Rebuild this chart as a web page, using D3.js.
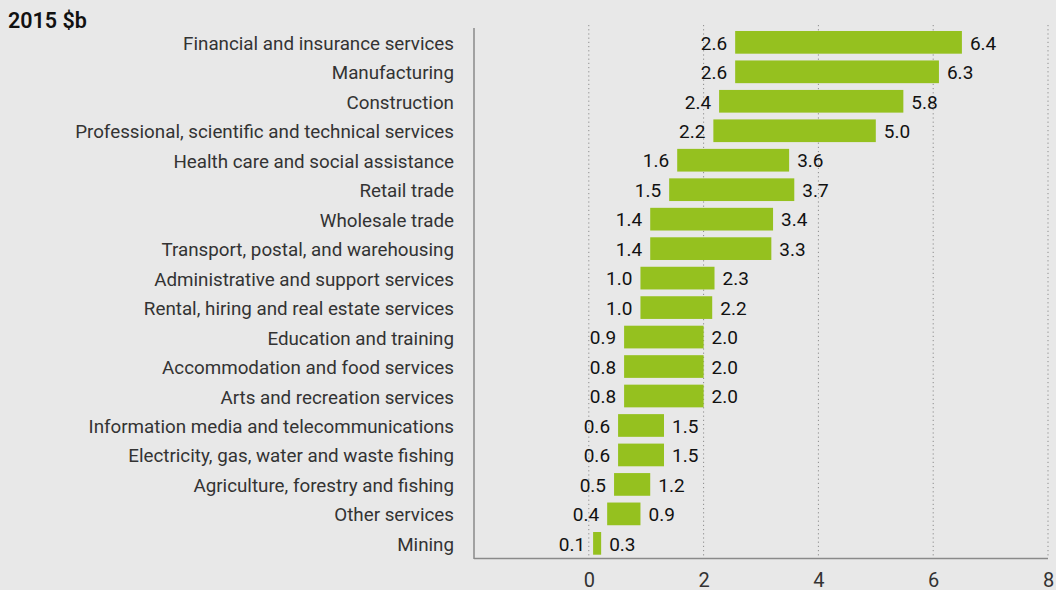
<!DOCTYPE html>
<html>
<head>
<meta charset="utf-8">
<script src="https://cdn.jsdelivr.net/npm/d3@7"></script>
<style>
  html, body { margin: 0; padding: 0; background: #e8e8e8; }
  svg { display: block; }
  text { font-family: Roboto, "Noto Sans", sans-serif; }
</style>
</head>
<body>
<svg id="chart" width="1056" height="590"></svg>
<script>
const categories = [
  "Financial and insurance services",
  "Manufacturing",
  "Construction",
  "Professional, scientific and technical services",
  "Health care and social assistance",
  "Retail trade",
  "Wholesale trade",
  "Transport, postal, and warehousing",
  "Administrative and support services",
  "Rental, hiring and real estate services",
  "Education and training",
  "Accommodation and food services",
  "Arts and recreation services",
  "Information media and telecommunications",
  "Electricity, gas, water and waste fishing",
  "Agriculture, forestry and fishing",
  "Other services",
  "Mining"
];
// bar extents as drawn
const lowValues  = [2.55, 2.55, 2.27, 2.17, 1.54, 1.40, 1.07, 1.07, 0.90, 0.90, 0.615, 0.615, 0.615, 0.51, 0.51, 0.44, 0.32, 0.075];
const highValues = [6.50, 6.10, 5.48, 5.00, 3.49, 3.58, 3.21, 3.18, 2.19, 2.15, 2.00, 2.00, 2.00, 1.31, 1.31, 1.07, 0.90, 0.215];
// printed labels
const lowLabels  = ["2.6","2.6","2.4","2.2","1.6","1.5","1.4","1.4","1.0","1.0","0.9","0.8","0.8","0.6","0.6","0.5","0.4","0.1"];
const highLabels = ["6.4","6.3","5.8","5.0","3.6","3.7","3.4","3.3","2.3","2.2","2.0","2.0","2.0","1.5","1.5","1.2","0.9","0.3"];
const tickValues = [0, 2, 4, 6, 8];
const unitLabel = "2015 $b";

const svg = d3.select("#chart");
const x = d3.scaleLinear().domain([-2, 8]).range([474, 1048]);
const y = d3.scaleBand().domain(categories).range([27.6, 558.1]).paddingInner(0.23).paddingOuter(0.115);

// gridlines
svg.append("g").selectAll("line").data(tickValues).join("line")
  .attr("x1", d => x(d)).attr("x2", d => x(d))
  .attr("y1", 25).attr("y2", 558)
  .attr("stroke", "#8c8c8c").attr("stroke-width", 1)
  .attr("stroke-dasharray", "1.2,3");

// bars
svg.append("g").selectAll("rect").data(categories).join("rect")
  .attr("x", (d, i) => x(lowValues[i]))
  .attr("width", (d, i) => x(highValues[i]) - x(lowValues[i]))
  .attr("y", d => y(d))
  .attr("height", y.bandwidth())
  .attr("fill", "#95c11f");

// axes
const xAxis = d3.axisBottom(x).tickValues(tickValues).tickSize(0).tickPadding(14);
const gx = svg.append("g").attr("transform", "translate(0,558.5)").call(xAxis);
gx.select(".domain").remove();
gx.selectAll("text").attr("font-size", 20).attr("fill", "#333").attr("font-family", "Roboto, sans-serif");
svg.append("line").attr("x1", x(-2)).attr("x2", x(8)).attr("y1", 558.5).attr("y2", 558.5)
  .attr("stroke", "#8a8a8a").attr("stroke-width", 1.5);
svg.append("line").attr("x1", x(-2)).attr("x2", x(-2)).attr("y1", 28).attr("y2", 559)
  .attr("stroke", "#8a8a8a").attr("stroke-width", 1.5);

// category labels
svg.append("g").selectAll("text").data(categories).join("text")
  .attr("x", 454)
  .attr("y", d => y(d) + y.bandwidth() / 2)
  .attr("dy", "0.4em")
  .attr("text-anchor", "end")
  .attr("font-size", 18.8)
  .attr("fill", "#333")
  .text(d => d);

// value labels
svg.append("g").selectAll("text").data(categories).join("text")
  .attr("x", (d, i) => x(lowValues[i]) - 8)
  .attr("y", d => y(d) + y.bandwidth() / 2)
  .attr("dy", "0.38em")
  .attr("text-anchor", "end")
  .attr("font-size", 19)
  .attr("fill", "#111")
  .text((d, i) => lowLabels[i]);
svg.append("g").selectAll("text").data(categories).join("text")
  .attr("x", (d, i) => x(highValues[i]) + 8)
  .attr("y", d => y(d) + y.bandwidth() / 2)
  .attr("dy", "0.38em")
  .attr("text-anchor", "start")
  .attr("font-size", 19)
  .attr("fill", "#111")
  .text((d, i) => highLabels[i]);

// unit title
svg.append("text").attr("x", 8).attr("y", 28)
  .attr("font-size", 21.5).attr("font-weight", 600).attr("fill", "#111")
  .text(unitLabel);
</script>
</body>
</html>
